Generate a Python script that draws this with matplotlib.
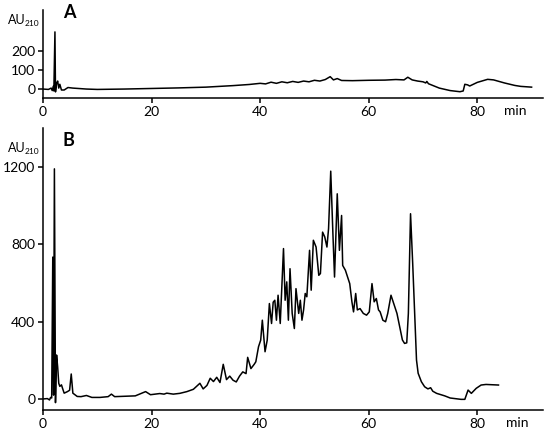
import matplotlib
matplotlib.use("Agg")
import matplotlib.pyplot as plt
import numpy as np

plt.rcParams['font.family'] = ['Lato', 'DejaVu Sans']

# chromatogram A (min, AU210)
t_a = [0, 1.0, 1.5, 1.7, 1.9, 2.0, 2.2, 2.3, 2.5, 2.7, 2.9, 3.1, 3.4, 3.9, 4.6,
       5.5, 8, 10, 15, 20, 25, 30, 35, 38, 40, 41, 42, 43, 44, 45, 46, 47, 48,
       49, 50, 51, 52, 52.9, 53.5, 54.2, 55, 57, 60, 63, 65, 66.5, 67.2, 68,
       69, 70, 70.5, 70.7, 71, 73, 75, 76.8, 77.4, 77.7, 78.2, 78.6, 80, 81.9,
       83, 85, 86.9, 88, 90]
v_a = [0, -2, 5, -8, 15, -10, 300, -15, 30, 42, 5, 25, -5, -5, 8,
       5, 0, -2, 0, 3, 6, 10, 18, 24, 30, 27, 36, 30, 38, 33, 40, 35, 42,
       38, 46, 42, 50, 65, 48, 55, 45, 44, 46, 47, 50, 48, 62, 48,
       42, 38, 32, 40, 28, 5, -8, -14, -10, 25, 22, 16, 35, 51,
       48, 32, 19, 14, 10]

# chromatogram B (min, AU210)
t_b = [0, 0.8, 1.2, 1.4, 1.6, 1.8, 1.95, 2.1, 2.3, 2.5, 2.7, 2.9, 3.1, 3.4,
       3.6, 3.9, 4.5, 4.9, 5.2, 5.5, 6.3, 7, 8, 9, 10.5, 12, 12.6, 13.2, 15,
       17, 18.9, 19.8, 21.5, 22.3, 22.8, 24, 25.2, 26.5, 27.7, 28.9, 29.5,
       30.2, 30.8, 31.4, 32, 32.6, 33.2, 33.8, 34.4, 35, 35.6, 36.2, 36.8,
       37.4, 37.7, 38.3, 38.9, 39.2, 39.7, 40.1, 40.4, 40.9, 41.3, 41.7, 42.1,
       42.4, 42.7, 43.0, 43.3, 43.7, 44.3, 44.6, 44.9, 45.2, 45.5, 45.9, 46.3,
       46.6, 47.1, 47.4, 47.7, 48.0, 48.3, 48.6, 49.1, 49.4, 49.8, 50.3, 50.8,
       51.1, 51.5, 51.9, 52.3, 52.6, 53.0, 53.4, 53.7, 54.2, 54.6, 55.0, 55.2,
       55.7, 56.1, 56.5, 56.9, 57.2, 57.6, 57.9, 58.4, 59.0, 59.6, 60.1, 60.6,
       61.0, 61.4, 61.8, 62.1, 62.6, 63.1, 63.5, 64.1, 64.6, 65.2, 65.7, 66.2,
       66.6, 67.0, 67.3, 67.7, 68.1, 68.5, 68.8, 69.1, 69.7, 70.3, 70.9, 71.4,
       71.8, 72.5, 74.0, 75, 77.0, 77.7, 78.3, 78.9, 79.8, 80.7, 81.6, 83.9]
v_b = [0, 2, -5, 8, 5, 733, 20, 1189, -19, 227, 166, 81, 65, 73,
       55, 30, 38, 45, 129, 30, 13, 12, 18, 8, 8, 12, 25, 12, 14,
       16, 38, 22, 28, 25, 30, 25, 29, 38, 50, 81, 52,
       70, 107, 90, 112, 85, 179, 100, 118, 97, 88, 118, 140,
       131, 215, 157, 179, 192, 270, 304, 407, 244, 304, 493, 390,
       500, 510, 407, 536, 390, 777, 510, 605, 407, 673, 442, 364,
       570, 442, 510, 407, 460, 545, 528, 768, 562, 820, 785, 639,
       648, 862, 837, 785, 880, 1177, 854, 630, 1060, 768, 948, 690,
       665, 630, 596, 502, 450, 545, 460, 467, 442, 433, 450, 596,
       502, 519, 460, 450, 407, 399, 442, 536, 493, 442, 373, 305,
       287, 290, 442, 957, 699, 407, 201, 133, 89, 63, 52, 58,
       40, 29, 16, 5, -2, -2, 46, 29, 55, 72, 75, 72]

x_ticks = [0, 20, 40, 60, 80]
y_ticks_a = [0, 100, 200]
y_ticks_b = [0, 400, 800, 1200]

W, H = 550, 434
fig = plt.figure(figsize=(W / 100, H / 100), dpi=100)


def make_axes(top_px, bottom_px):
    ax = fig.add_axes([43 / W, 1 - bottom_px / H, 500 / W, (bottom_px - top_px) / H])
    for side in ('top', 'right'):
        ax.spines[side].set_visible(False)
    for side in ('left', 'bottom'):
        ax.spines[side].set_linewidth(1.1)
    ax.tick_params(direction='out', length=3.5, width=1.1, labelsize=10, pad=2)
    ax.set_xlim(0, 92.1)
    ax.set_xticks(x_ticks)
    return ax


ax1 = make_axes(10, 98)
ax1.plot(t_a, v_a, color='black', lw=1.1)
ax1.set_ylim(-47, 415)
ax1.set_yticks(y_ticks_a)

ax2 = make_axes(128, 410)
ax2.plot(t_b, v_b, color='black', lw=1.1)
ax2.set_ylim(-57, 1400)
ax2.set_yticks(y_ticks_b)


def px_text(x, y, s, **kw):
    fig.text(x / W, 1 - y / H, s, **kw)


for y0, letter in [(20, 'A'), (148, 'B')]:
    px_text(8, y0, 'AU', fontsize=9, va='center')
    px_text(25, y0 + 3, '210', fontsize=6, va='center')
    px_text(63, y0 - 7, letter, fontsize=13, fontweight='bold', va='center')

px_text(515, 111, 'min', fontsize=10, ha='center', va='center')
px_text(517, 423, 'min', fontsize=10, ha='center', va='center')

fig.savefig('out.png', dpi=100)
